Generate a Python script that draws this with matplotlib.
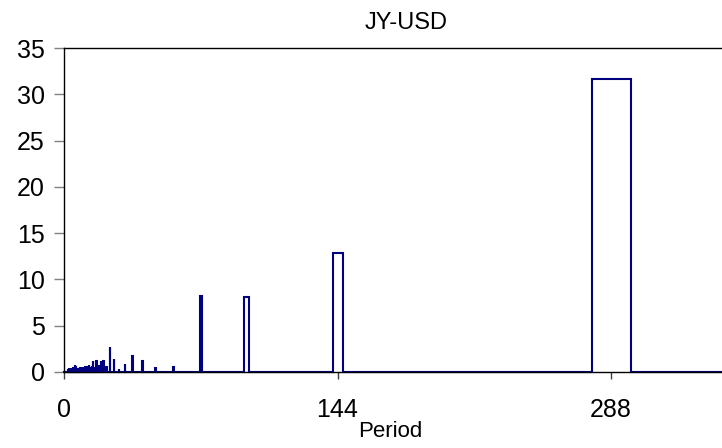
import matplotlib
matplotlib.use("Agg")
import matplotlib.pyplot as plt

plt.rcParams["font.family"] = ["Liberation Sans", "DejaVu Sans"]

# periodogram of JY-USD, power against period (sample length 288)
n_obs = 288
periods = [288, 144, 96, 72, 57.6, 48, 41.1, 36, 32, 28.8, 26.2, 24,
           22.2, 20.6, 19.2, 18, 16.9, 16, 15.2, 14.4, 13.7, 13.1, 12.5,
           12, 11.5, 11.1, 10.7, 10.3, 9.9, 9.6,
           9.0, 8.5, 8.0, 7.5, 7.0, 6.5, 6.0, 5.5, 5.0, 4.5, 4.0, 3.5,
           3.0, 2.5, 2.0]
power = [31.65, 12.9, 8.05, 8.2, 0.55, 0.45, 1.2, 1.75, 0.8, 0.3, 1.4, 2.65,
         0.55, 1.2, 1.15, 0.7, 1.2, 0.5, 1.2, 0.6, 0.55, 0.75, 0.45,
         0.6, 0.45, 0.55, 0.4, 0.45, 0.35, 0.5,
         0.5, 0.45, 0.5, 0.4, 0.45, 0.4, 0.6, 0.7, 0.45, 0.5, 0.45, 0.35,
         0.3, 0.35, 0.3]
xticks = [0, 144, 288]

# each harmonic occupies a narrow frequency band, drawn as a box in period space
band = 0.036
xs, ys = [0.0], [0.0]
for p, v in sorted(zip(periods, power)):
    k = n_obs / p
    lo, hi = n_obs / (k + band), n_obs / (k - band)
    xs += [lo, lo, hi, hi]
    ys += [0.0, v, v, 0.0]
xs.append(360.0)
ys.append(0.0)

fig = plt.figure(figsize=(7.22, 4.48), dpi=100)
ax = fig.add_axes([0.0893, 0.1703, 0.9454, 0.7219])
ax.plot(xs, ys, color="#000080", lw=1.5, solid_joinstyle="miter", clip_on=False)

ax.set_xlim(0, 360)
ax.set_ylim(0, 35)
ax.set_yticks(range(0, 36, 5))
ax.set_xticks(xticks)
ax.set_xticklabels([str(t) for t in xticks])

ax.tick_params(axis="y", direction="out", length=7.2, width=1, color="#808080",
               pad=7, labelsize=18)
ax.tick_params(axis="x", direction="out", length=5, width=1, color="#404040",
               pad=14, labelsize=18)

for side in ("left", "bottom", "top"):
    ax.spines[side].set_color("black")
    ax.spines[side].set_linewidth(1.0)
ax.spines["right"].set_visible(False)

ax.set_xlabel("Period", fontsize=16, labelpad=0)
ax.xaxis.set_label_coords(0.478, -0.152)
ax.set_title("JY-USD", fontsize=17, pad=14)

fig.savefig("out.png", dpi=100)
